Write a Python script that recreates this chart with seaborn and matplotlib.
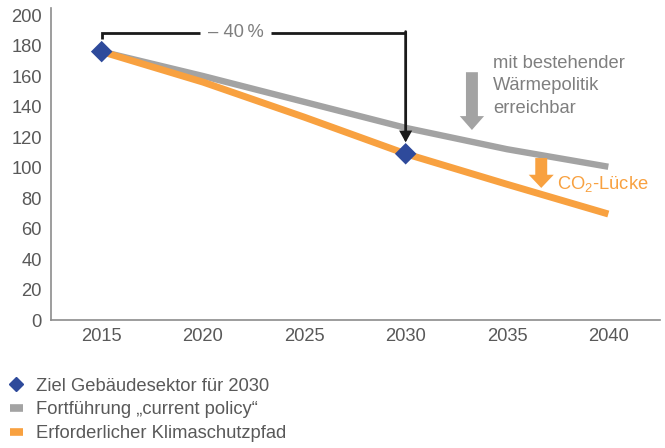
import matplotlib
matplotlib.use("Agg")
import matplotlib.pyplot as plt
from matplotlib.lines import Line2D
import seaborn as sns
import pandas as pd

# ---- data ----
years = [2015, 2020, 2025, 2030, 2035, 2040]
current_policy = [176, 160, 143, 126, 112, 100.5]
klimaschutzpfad = [176, 156, 133, 109, 89, 69.5]
ziel_years = [2015, 2030]
ziel_values = [176, 109]
y_ticks = [0, 20, 40, 60, 80, 100, 120, 140, 160, 180, 200]
x_ticks = [2015, 2020, 2025, 2030, 2035, 2040]
legend_labels = ["Ziel Gebäudesektor für 2030",
                 "Fortführung \u201ecurrent policy\u201c",
                 "Erforderlicher Klimaschutzpfad"]

# ---- style ----
sns.set_theme(style="white")
plt.rcParams['font.family'] = ['Liberation Sans', 'DejaVu Sans']
plt.rcParams['mathtext.fontset'] = 'custom'
plt.rcParams['mathtext.rm'] = 'Liberation Sans'
plt.rcParams['mathtext.it'] = 'Liberation Sans'
plt.rcParams['mathtext.bf'] = 'Liberation Sans'

ORANGE = "#F8A140"
GRAY = "#A3A3A3"
BLUE = "#2E4A9B"
TXT = "#7F7F7F"
TICK = "#595959"
FS = 13.2

fig = plt.figure(figsize=(6.65, 4.48), dpi=100)
ax = fig.add_axes([51/665, 1-320/448, (660-51)/665, (320-8)/448])

df = pd.DataFrame({"Jahr": years, "policy": current_policy, "pfad": klimaschutzpfad})
sns.lineplot(data=df, x="Jahr", y="policy", color=GRAY, linewidth=4.6, ax=ax,
             solid_capstyle='butt')
sns.lineplot(data=df, x="Jahr", y="pfad", color=ORANGE, linewidth=5.0, ax=ax,
             solid_capstyle='butt')
sns.scatterplot(x=ziel_years, y=ziel_values, marker="D", s=120, color=BLUE,
                edgecolor="none", ax=ax, zorder=5)

ax.set_xlim(2012.5, 2042.55)
ax.set_ylim(0, 204.6)
ax.set_xticks(x_ticks)
ax.set_yticks(y_ticks)
ax.set_xlabel("")
ax.set_ylabel("")
ax.tick_params(axis='both', length=0, labelsize=FS, labelcolor=TICK)
ax.tick_params(axis='y', pad=6.5)
ax.tick_params(axis='x', pad=5.5)
for s in ["top", "right"]:
    ax.spines[s].set_visible(False)
for s in ["left", "bottom"]:
    ax.spines[s].set_color("#8C8C8C")
    ax.spines[s].set_linewidth(1.2)

# ---- -40 % bracket ----
yb = 188.5
ax.plot([ziel_years[0], ziel_years[0], 2019.85], [184, yb, yb], color="#1A1A1A",
        lw=2, solid_capstyle='butt', solid_joinstyle='miter')
ax.plot([2023.35, ziel_years[1]], [yb, yb], color="#1A1A1A", lw=2,
        solid_capstyle='butt')
ax.annotate("", xy=(ziel_years[1], 116.5), xytext=(ziel_years[1], yb + 0.6),
            arrowprops=dict(arrowstyle="-|>,head_width=0.25,head_length=0.45",
                            color="#1A1A1A", lw=2, shrinkA=0, shrinkB=0,
                            joinstyle='miter'))
ax.text(2021.6, yb, "\u2013 40\u2009%", color=TXT, fontsize=FS, ha="center",
        va="center")

# ---- block arrows ----
ax.annotate("", xy=(2033.27, 124.6), xytext=(2033.27, 162.5),
            arrowprops=dict(arrowstyle="simple,head_width=17.5,head_length=10,tail_width=8.6",
                            mutation_scale=1, color=GRAY, lw=0, shrinkA=0, shrinkB=0))
ax.annotate("", xy=(2036.69, 86.6), xytext=(2036.69, 106.2),
            arrowprops=dict(arrowstyle="simple,head_width=18,head_length=9.5,tail_width=8.6",
                            mutation_scale=1, color=ORANGE, lw=0, shrinkA=0, shrinkB=0))

ax.text(2034.3, 174, "mit bestehender\nWärmepolitik\nerreichbar", color=TXT,
        fontsize=FS, ha="left", va="top", linespacing=1.42)
ax.text(2037.45, 89.5, "CO$_2$-Lücke", color=ORANGE, fontsize=FS, ha="left",
        va="center")

# ---- legend ----
handles = [
    Line2D([], [], marker="D", color=BLUE, linestyle="none", markersize=7.5),
    Line2D([], [], color=GRAY, lw=5.5, solid_capstyle='butt'),
    Line2D([], [], color=ORANGE, lw=5.5, solid_capstyle='butt'),
]
leg = fig.legend(handles, legend_labels, loc="upper left",
                 bbox_to_anchor=(0.015, 0.157), frameon=False, fontsize=FS,
                 handlelength=0.7, handletextpad=0.72, labelspacing=0.37,
                 borderpad=0, borderaxespad=0)
for t in leg.get_texts():
    t.set_color(TICK)

fig.savefig("out.png", dpi=100)
